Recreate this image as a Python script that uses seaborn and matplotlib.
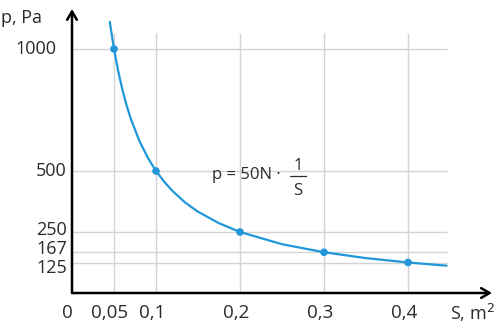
import numpy as np
import pandas as pd
import matplotlib
matplotlib.use('Agg')
import matplotlib.pyplot as plt
import matplotlib.transforms as mtransforms
import seaborn as sns

# marked points
area = [0.05, 0.1, 0.2, 0.3, 0.4]
pressure = [1000, 500, 250, 167, 125]

# curve p = 50N / S
curve_s = [0.045, 0.05, 0.055, 0.06, 0.065, 0.07, 0.08, 0.09, 0.1, 0.11, 0.12, 0.135,
           0.15, 0.175, 0.2, 0.25, 0.3, 0.35, 0.4, 0.446]
curve_p = [1111, 1000, 909, 833, 769, 714, 625, 556, 500, 455, 417, 370,
           333, 286, 250, 200, 167, 143, 125, 112]

x_ticks = [0.05, 0.1, 0.2, 0.3, 0.4]
x_labels = ['0,05', '0,1', '0,2', '0,3', '0,4']
y_ticks = [125, 167, 250, 500, 1000]
y_labels = ['125', '167', '250', '500', '1000']

sns.set_style('white')
plt.rcParams['font.family'] = ['Open Sans', 'DejaVu Sans']

W, H = 495, 327
fig = plt.figure(figsize=(W / 100, H / 100), dpi=100)
# axes: origin at pixel (72, 293), 840 px per m^2, 0.244 px per Pa
x0, y0 = 72, 293
ax = fig.add_axes([x0 / W, (H - y0) / H, (W - x0) / W, (y0 - 6) / H])
ax.set_xlim(0, (W - x0) / 840)
ax.set_ylim(0, (y0 - 6) / 0.244)

grid_c = '#d3d3d3'
ax.vlines(x_ticks, 0, 1066, color=grid_c, lw=1.0, zorder=0)
ax.hlines(y_ticks, 0, 0.446, color=grid_c, lw=1.0, zorder=0)

blue = '#1f97d8'
df_curve = pd.DataFrame({'S': curve_s, 'p': curve_p})
df_pts = pd.DataFrame({'S': area, 'p': pressure})
sns.lineplot(data=df_curve, x='S', y='p', ax=ax, color=blue, lw=1.6, sort=False, zorder=3)
sns.scatterplot(data=df_pts, x='S', y='p', ax=ax, color=blue, s=30, edgecolor='none', zorder=4)

for sp in ax.spines.values():
    sp.set_visible(False)

# axes arrows
arrow = dict(arrowstyle='->,head_length=0.6,head_width=0.35', lw=1.8, color='black',
             shrinkA=0, shrinkB=0)
ax.annotate('', xy=(0.5, 0), xytext=(0, 0), arrowprops=arrow, annotation_clip=False)
ax.annotate('', xy=(0, (y0 - 9) / 0.244), xytext=(0, 0), arrowprops=arrow, annotation_clip=False)

txt_c = '#2a2a2a'
ax.set_xticks(x_ticks)
ax.set_xticklabels(x_labels, fontsize=13.5, color=txt_c)
ax.tick_params(length=0, pad=8)
shift = mtransforms.ScaledTranslation(-4 / 100, 0, fig.dpi_scale_trans)
for lab in ax.get_xticklabels():
    lab.set_transform(lab.get_transform() + shift)

# y labels drawn by hand: they sit a bit apart from their grid lines
ax.set_yticks([])
ylab_pos = {'1000': (1000, -0.018), '500': (500, -0.006), '250': (258, -0.006),
            '167': (180, -0.006), '125': (103, -0.006)}
for lab in y_labels:
    yy, xx = ylab_pos[lab]
    ax.text(xx, yy, lab, ha='right', va='center', fontsize=13, color=txt_c, clip_on=False)

ax.set_xlabel('')
ax.set_ylabel('')

ax.text(-0.005, -82, '0', ha='center', va='center', fontsize=13.5, color=txt_c, clip_on=False)
ax.text(-0.085, 1127, 'p, Pa', ha='left', va='center', fontsize=13, color=txt_c, clip_on=False)
ax.text(0.45, -82, 'S, m$^2$', ha='left', va='center', fontsize=13, color=txt_c, clip_on=False)

# formula
ax.text(0.1667, 484, 'p = 50N ·', ha='left', va='center', fontsize=12, color=txt_c)
ax.text(0.269, 522, '1', ha='center', va='center', fontsize=12, color=txt_c)
ax.text(0.269, 420, 'S', ha='center', va='center', fontsize=12, color=txt_c)
ax.plot([0.2595, 0.2785], [478, 478], color=txt_c, lw=0.9)

fig.savefig('out.png', dpi=100)
